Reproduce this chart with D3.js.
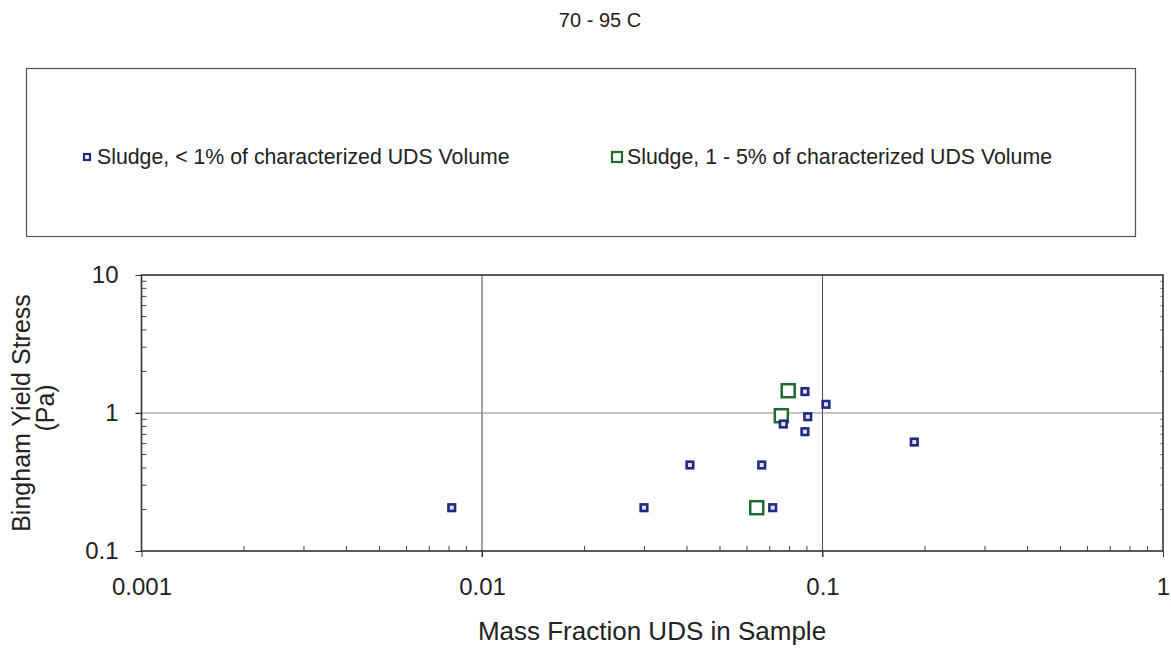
<!DOCTYPE html>
<html><head><meta charset="utf-8">
<script src="https://cdn.jsdelivr.net/npm/d3@7/dist/d3.min.js"></script>
<style>body{margin:0;background:#fff}svg{display:block}text{font-family:"Liberation Sans",Arial,sans-serif;fill:#222}</style>
</head><body><svg id="c" width="1171" height="649"></svg>
<script>
const title = "70 - 95 C";
const seriesNames = ["Sludge, < 1% of characterized UDS Volume", "Sludge, 1 - 5% of characterized UDS Volume"];
const lowX = [0.00815, 0.0299, 0.0408, 0.0663, 0.0714, 0.0767, 0.0888, 0.0888, 0.0905, 0.1024, 0.186];
const lowY = [0.206, 0.206, 0.42, 0.42, 0.206, 0.832, 1.43, 0.732, 0.94, 1.156, 0.616];
const midX = [0.0793, 0.0757, 0.0641];
const midY = [1.45, 0.956, 0.206];
const xTicks = [0.001, 0.01, 0.1, 1];
const xTickLabels = ["0.001", "0.01", "0.1", "1"];
const yTicks = [0.1, 1, 10];
const yTickLabels = ["0.1", "1", "10"];
const xTitle = "Mass Fraction UDS in Sample";
const yTitle = ["Bingham Yield Stress", "(Pa)"];

const svg = d3.select("#c");
const L = 141.5, R = 1163, T = 275, B = 551;
const x = d3.scaleLog().domain([0.001, 1]).range([L, R]);
const y = d3.scaleLog().domain([0.1, 10]).range([B, T]);
const FF = "Liberation Sans, Arial, sans-serif";

svg.append("text").attr("x", 600).attr("y", 27).attr("text-anchor", "middle").attr("font-size", 20).text(title);

// legend
svg.append("rect").attr("x", 26.5).attr("y", 68.5).attr("width", 1109).attr("height", 168).attr("fill", "none").attr("stroke", "#555").attr("stroke-width", 1.2);
const leg = [{x: 87, s: 6, c: "#1f2a80"}, {x: 617, s: 10, c: "#1e6b2e"}];
leg.forEach((d, i) => {
  svg.append("rect").attr("x", d.x - d.s / 2).attr("y", 157 - d.s / 2).attr("width", d.s).attr("height", d.s).attr("fill", "#fff").attr("stroke", d.c).attr("stroke-width", 2.2);
  svg.append("text").attr("x", d.x + 10).attr("y", 164).attr("font-size", 21.3).text(seriesNames[i]);
});

// minor ticks
const minors = (lo, hi) => { const a = []; for (let e = lo; e < hi; e++) for (let m = 2; m <= 9; m++) a.push(m * Math.pow(10, e)); return a; };
const g = svg.append("g");
minors(-3, 0).forEach(v => g.append("line").attr("x1", x(v)).attr("x2", x(v)).attr("y1", B).attr("y2", B - 5).attr("stroke", "#444").attr("stroke-width", 1));
minors(-1, 1).forEach(v => {
  g.append("line").attr("x1", L).attr("x2", L + 5).attr("y1", y(v)).attr("y2", y(v)).attr("stroke", "#444").attr("stroke-width", 1);
  g.append("line").attr("x1", R).attr("x2", R - 3).attr("y1", y(v)).attr("y2", y(v)).attr("stroke", "#666").attr("stroke-width", 0.8);
});

// gridlines
[0.01, 0.1].forEach(v => g.append("line").attr("x1", x(v)).attr("x2", x(v)).attr("y1", T).attr("y2", B + 6).attr("stroke", "#555").attr("stroke-width", 1.1));
[1].forEach(v => g.append("line").attr("x1", L - 6).attr("x2", R).attr("y1", y(v)).attr("y2", y(v)).attr("stroke", "#888").attr("stroke-width", 1.1));

// frame
g.append("rect").attr("x", L).attr("y", T).attr("width", R - L).attr("height", B - T).attr("fill", "none").attr("stroke", "#333").attr("stroke-width", 1.6);

// axes with major ticks
const xa = svg.append("g").attr("transform", `translate(0,${B})`).call(d3.axisBottom(x).tickValues(xTicks).tickSize(6).tickFormat((d, i) => xTickLabels[i]));
xa.select(".domain").remove();
xa.selectAll("line").attr("stroke", "#333");
xa.selectAll("text").attr("font-size", 24).attr("y", 27).style("font-family", FF).attr("fill", "#222");
const ya = svg.append("g").attr("transform", `translate(${L},0)`).call(d3.axisLeft(y).tickValues(yTicks).tickSize(6).tickFormat((d, i) => yTickLabels[i]));
ya.select(".domain").remove();
ya.selectAll("line").attr("stroke", "#333");
ya.selectAll("text").attr("font-size", 24).attr("x", -23).style("font-family", FF).attr("fill", "#222");

// titles
svg.append("text").attr("x", 652).attr("y", 640).attr("text-anchor", "middle").attr("font-size", 26).text(xTitle);
svg.append("text").attr("transform", "translate(30,413) rotate(-90)").attr("text-anchor", "middle").attr("font-size", 25).text(yTitle[0]);
svg.append("text").attr("transform", "translate(54,408) rotate(-90)").attr("text-anchor", "middle").attr("font-size", 25).text(yTitle[1]);

// points
const low = lowX.map((v, i) => [v, lowY[i]]);
const mid = midX.map((v, i) => [v, midY[i]]);
svg.append("g").selectAll("rect").data(mid).join("rect")
  .attr("x", d => x(d[0]) - 6.5).attr("y", d => y(d[1]) - 6.5).attr("width", 13).attr("height", 13)
  .attr("fill", "#fff").attr("stroke", "#1e6b2e").attr("stroke-width", 2.5);
svg.append("g").selectAll("rect").data(low).join("rect")
  .attr("x", d => x(d[0]) - 3.3).attr("y", d => y(d[1]) - 3.3).attr("width", 6.6).attr("height", 6.6)
  .attr("fill", "#dfe0f0").attr("stroke", "#1f2a80").attr("stroke-width", 2.6);
</script></body></html>
